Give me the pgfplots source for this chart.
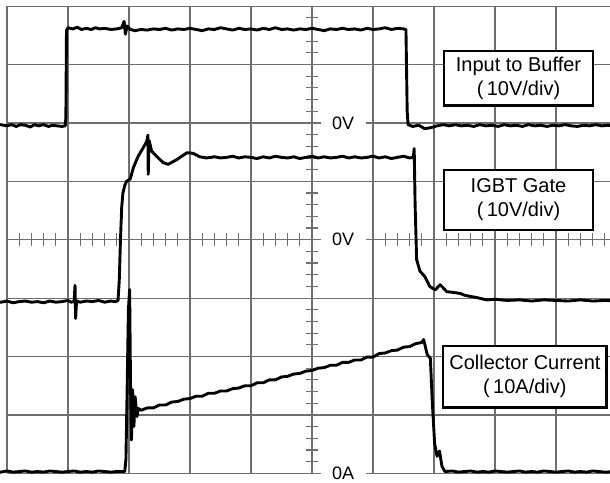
\documentclass[border=0pt]{standalone}
\usepackage{pgfplots}
\pgfplotsset{compat=1.18}
\usepackage{fontspec}
\setmainfont{Liberation Sans}
\definecolor{gridc}{HTML}{6E6E6E}
\tikzset{
  trace/.style={black, line width=1.45pt, line join=round, line cap=round},
  lbl/.style={fill=white, inner sep=0pt, minimum width=22.5pt, minimum height=11pt,
    font=\fontsize{9}{10}\selectfont},
  box/.style={font=\fontsize{10}{12}\selectfont, align=center},
  gl/.style={gridc, line width=0.6pt},
}

% scope traces, in divisions (10 x 8), 0/0 = lower left of the graticule
\pgfplotstableread{
x y
-0.2 5.96
-0.1 5.97
0.0 5.95
0.08 5.97
0.15 5.94
0.22 5.97
0.30 5.96
0.38 5.93
0.45 5.97
0.52 5.95
0.60 5.97
0.68 5.94
0.75 5.96
0.82 5.95
0.90 5.94
0.955 5.95
0.965 6.10
0.975 7.58
1.00 7.63
1.08 7.61
1.15 7.64
1.22 7.60
1.30 7.62
1.38 7.60
1.45 7.63
1.52 7.61
1.60 7.62
1.70 7.60
1.80 7.61
1.88 7.63
1.92 7.74
1.94 7.52
1.97 7.66
2.02 7.60
2.10 7.58
2.20 7.60
2.30 7.59
2.40 7.61
2.50 7.60
2.60 7.62
2.70 7.59
2.80 7.61
2.90 7.60
3.00 7.62
3.10 7.60
3.20 7.58
3.30 7.61
3.40 7.60
3.50 7.63
3.60 7.61
3.70 7.59
3.80 7.62
3.90 7.60
4.00 7.61
4.10 7.59
4.20 7.62
4.30 7.60
4.40 7.63
4.50 7.60
4.60 7.61
4.70 7.59
4.80 7.61
4.90 7.60
5.00 7.62
5.10 7.60
5.20 7.58
5.30 7.61
5.40 7.60
5.50 7.62
5.60 7.60
5.70 7.61
5.80 7.59
5.90 7.62
6.00 7.60
6.10 7.61
6.20 7.63
6.30 7.60
6.40 7.62
6.50 7.61
6.54 7.60
6.56 6.20
6.575 5.97
6.65 5.94
6.75 5.96
6.85 5.90
6.95 5.92
7.05 5.95
7.15 5.97
7.25 5.95
7.35 5.97
7.45 5.95
7.55 5.96
7.65 5.94
7.75 5.97
7.85 5.95
7.95 5.96
8.05 5.94
8.15 5.97
8.25 5.95
8.35 5.96
8.45 5.94
8.55 5.97
8.65 5.95
8.75 5.96
8.85 5.94
8.95 5.96
9.05 5.95
9.15 5.97
9.25 5.95
9.35 5.94
9.45 5.96
9.55 5.95
9.65 5.97
9.75 5.95
9.85 5.96
10.0 5.95
}\inputbuf

\pgfplotstableread{
x y
-0.2 2.94
-0.1 2.93
0.0 2.95
0.1 2.92
0.2 2.94
0.3 2.95
0.4 2.93
0.5 2.94
0.6 2.92
0.7 2.95
0.8 2.93
0.9 2.94
1.0 2.96
1.05 2.93
1.10 2.94
1.115 3.22
1.125 2.65
1.14 2.95
1.20 2.93
1.30 2.95
1.40 2.94
1.50 2.96
1.60 2.93
1.70 2.95
1.78 2.94
1.82 2.96
1.84 3.30
1.86 4.00
1.88 4.55
1.90 4.80
1.93 4.93
1.96 5.00
2.02 5.04
2.07 5.23
2.15 5.43
2.23 5.57
2.29 5.68
2.31 5.79
2.315 5.12
2.33 5.70
2.37 5.52
2.45 5.43
2.56 5.32
2.64 5.29
2.78 5.37
2.95 5.49
3.05 5.48
3.16 5.42
3.27 5.40
3.40 5.42
3.50 5.40
3.60 5.41
3.70 5.43
3.80 5.40
3.90 5.42
4.00 5.41
4.10 5.39
4.20 5.42
4.30 5.40
4.40 5.43
4.50 5.41
4.60 5.40
4.70 5.42
4.80 5.39
4.90 5.41
5.00 5.43
5.10 5.40
5.20 5.42
5.30 5.40
5.40 5.41
5.50 5.43
5.60 5.40
5.70 5.42
5.80 5.40
5.90 5.41
6.00 5.43
6.10 5.40
6.20 5.42
6.30 5.39
6.40 5.41
6.50 5.43
6.60 5.40
6.66 5.41
6.675 5.56
6.69 4.60
6.715 3.66
6.77 3.46
6.85 3.37
6.93 3.20
7.02 3.14
7.10 3.23
7.21 3.11
7.30 3.10
7.43 3.08
7.50 3.05
7.59 3.03
7.70 3.01
7.86 2.97
8.00 2.98
8.20 2.96
8.40 2.97
8.60 2.95
8.80 2.97
9.00 2.96
9.20 2.95
9.40 2.97
9.60 2.95
9.80 2.96
10.0 2.95
}\gatev

\pgfplotstableread{
x y
-0.2 0.03
-0.1 0.02
0.0 0.04
0.1 0.02
0.2 0.03
0.3 0.04
0.4 0.02
0.5 0.03
0.6 0.02
0.7 0.04
0.8 0.03
0.9 0.02
1.0 0.03
1.1 0.04
1.2 0.02
1.3 0.03
1.4 0.02
1.5 0.04
1.6 0.03
1.7 0.02
1.8 0.03
1.93 0.03
1.95 0.25
1.97 1.50
1.99 2.80
2.01 3.15
2.025 1.50
2.04 0.57
2.06 1.43
2.08 0.80
2.10 1.31
2.13 0.97
2.15 1.11
2.20 1.08
2.30 1.12
2.40 1.12
2.50 1.17
2.60 1.17
2.70 1.22
2.80 1.23
2.90 1.27
3.00 1.28
3.10 1.32
3.20 1.32
3.30 1.37
3.40 1.37
3.50 1.41
3.60 1.41
3.70 1.45
3.80 1.46
3.90 1.50
4.00 1.50
4.10 1.55
4.20 1.55
4.30 1.60
4.40 1.60
4.50 1.65
4.60 1.66
4.70 1.70
4.80 1.71
4.90 1.75
5.00 1.76
5.10 1.80
5.20 1.81
5.30 1.85
5.40 1.85
5.50 1.90
5.60 1.90
5.70 1.94
5.80 1.94
5.90 1.99
6.00 1.99
6.10 2.05
6.20 2.06
6.30 2.10
6.40 2.11
6.50 2.16
6.60 2.17
6.70 2.22
6.80 2.24
6.83 2.29
6.89 2.03
6.94 1.97
6.97 1.26
7.01 0.51
7.05 0.29
7.09 0.38
7.13 0.12
7.18 0.03
7.30 0.04
7.40 0.02
7.50 0.03
7.60 0.04
7.70 0.02
7.80 0.03
7.90 0.02
8.00 0.04
8.10 0.03
8.20 0.02
8.30 0.03
8.40 0.04
8.50 0.02
8.60 0.03
8.70 0.02
8.80 0.04
8.90 0.03
9.00 0.02
9.10 0.03
9.20 0.04
9.30 0.02
9.40 0.03
9.50 0.02
9.60 0.04
9.70 0.03
9.80 0.02
10.0 0.03
}\collector

\begin{document}
\begin{tikzpicture}
\begin{axis}[
  at={(0,0)}, anchor=south west,
  scale only axis, width=305pt, height=241pt,
  xmin=-0.115, xmax=9.885, ymin=-0.149, ymax=8.105,
  axis lines=none,
]
% graticule
\pgfplotsinvokeforeach{0,...,10}{\draw[gl] (axis cs:#1,0) -- (axis cs:#1,8);}
\pgfplotsinvokeforeach{0,...,8}{\draw[gl] (axis cs:0,#1) -- (axis cs:10,#1);}
\pgfplotsinvokeforeach{1,...,39}{\draw[gl] (axis cs:4.9,0.2*#1) -- (axis cs:5.1,0.2*#1);}
\pgfplotsinvokeforeach{1,...,49}{\draw[gl] (axis cs:0.2*#1,3.89) -- (axis cs:0.2*#1,4.11);}

\node[lbl] at (axis cs:5.51,6) {0V};
\node[lbl] at (axis cs:5.51,4) {0V};
\node[lbl] at (axis cs:5.51,0) {0A};

\addplot[trace, mark=none] table {\inputbuf};
\addplot[trace, mark=none] table {\gatev};
\addplot[trace, mark=none] table {\collector};

\draw[fill=white, line width=1.2pt] (axis cs:7.16,6.30) rectangle (axis cs:9.61,7.23);
\node[box] at (axis cs:8.385,6.765) {Input to Buffer\\(\,10V/div)};
\draw[fill=white, line width=1.2pt] (axis cs:7.16,4.17) rectangle (axis cs:9.61,5.19);
\node[box] at (axis cs:8.385,4.68) {IGBT Gate\\(\,10V/div)};
\draw[fill=white, line width=1.2pt] (axis cs:7.15,1.13) rectangle (axis cs:9.83,2.18);
\node[box] at (axis cs:8.49,1.655) {Collector Current\\(\,10A/div)};
\end{axis}
\pgfresetboundingbox
\path (0,0) rectangle (305pt,241pt);
\end{tikzpicture}
\end{document}
